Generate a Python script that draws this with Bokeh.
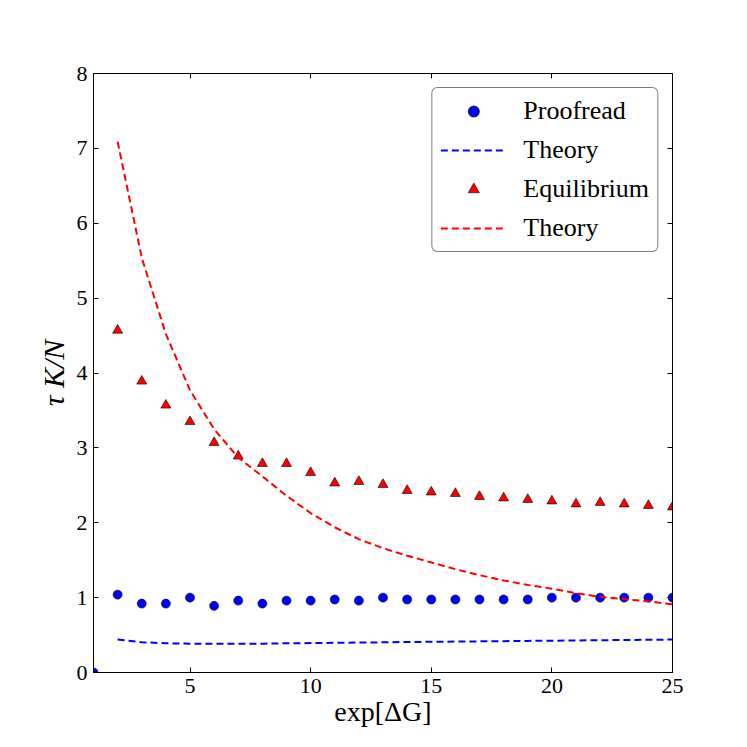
from bokeh.plotting import figure
from bokeh.models import Range1d, FixedTicker, LinearAxis, Legend, LegendItem
from bokeh.embed import file_html
from bokeh.resources import INLINE

# ---- data ----
x_proof = list(range(1, 26))
y_proof = [0.0, 1.04, 0.92, 0.92, 1.00, 0.89, 0.96, 0.92, 0.96, 0.96, 0.975, 0.96, 1.00,
           0.975, 0.975, 0.975, 0.975, 0.975, 0.975, 1.00, 1.00, 1.00, 1.00, 1.00, 1.00]

x_theory = list(range(2, 26))
y_theory_proof = [0.44, 0.405, 0.39, 0.385, 0.383, 0.383, 0.385, 0.39, 0.393, 0.396, 0.40,
                  0.403, 0.407, 0.41, 0.413, 0.416, 0.419, 0.422, 0.425, 0.428, 0.431,
                  0.434, 0.437, 0.44]

x_eq = list(range(2, 26))
y_eq = [4.57, 3.89, 3.57, 3.35, 3.07, 2.89, 2.79, 2.79, 2.67, 2.53, 2.55, 2.51, 2.43,
        2.41, 2.39, 2.35, 2.33, 2.31, 2.29, 2.25, 2.27, 2.25, 2.23, 2.21]

y_theory_eq = [7.09, 5.54, 4.52, 3.77, 3.25, 2.87, 2.62, 2.36, 2.13, 1.94, 1.78, 1.66,
               1.56, 1.47, 1.38, 1.30, 1.23, 1.17, 1.12, 1.06, 1.01, 0.98, 0.95, 0.91]

x_ticks = [5, 10, 15, 20, 25]
y_ticks = [0, 1, 2, 3, 4, 5, 6, 7, 8]

SERIF = "Liberation Serif"

p = figure(frame_width=579, frame_height=599,
           min_border_left=93, min_border_top=73, min_border_right=60, min_border_bottom=60,
           x_range=Range1d(1, 25), y_range=Range1d(0, 8),
           output_backend="svg", toolbar_location=None,
           background_fill_color="white", border_fill_color="white")
p.grid.visible = False
p.outline_line_color = "black"
p.outline_line_width = 1

def style_axis(ax, ticks, labels=True):
    ax.ticker = FixedTicker(ticks=ticks)
    ax.major_tick_in = 5
    ax.major_tick_out = 0
    ax.minor_tick_line_color = None
    ax.major_tick_line_color = "black"
    ax.axis_line_color = "black"
    ax.major_label_text_font = SERIF
    ax.major_label_text_font_size = "22px"
    ax.major_label_text_color = "black"
    if not labels:
        ax.major_label_text_color = None
        ax.major_label_standoff = 0

style_axis(p.xaxis[0], x_ticks)
style_axis(p.yaxis[0], y_ticks)
p.xaxis[0].major_label_standoff = 6
p.yaxis[0].major_label_standoff = 6

p.xaxis[0].axis_label = "exp[ΔG]"
p.xaxis[0].axis_label_text_font = SERIF
p.xaxis[0].axis_label_text_font_style = "normal"
p.xaxis[0].axis_label_text_font_size = "28px"
p.xaxis[0].axis_label_standoff = 0
p.xaxis[0].axis_label_text_color = "black"

p.yaxis[0].axis_label = "τ K/N"
p.yaxis[0].axis_label_text_font = SERIF
p.yaxis[0].axis_label_text_font_style = "italic"
p.yaxis[0].axis_label_text_font_size = "30px"
p.yaxis[0].axis_label_standoff = 4
p.yaxis[0].axis_label_text_color = "black"

top = LinearAxis()
right = LinearAxis()
style_axis(top, x_ticks, labels=False)
style_axis(right, y_ticks, labels=False)
p.add_layout(top, "above")
p.add_layout(right, "right")

r1 = p.scatter(x_proof, y_proof, marker="circle", size=9, fill_color="#0000ff",
               line_color="black", line_width=0.6)
r2 = p.line(x_theory, y_theory_proof, line_color="#0000ff", line_width=2, line_dash="7 4")
r3 = p.scatter(x_eq, y_eq, marker="triangle", size=10, fill_color="#ff0000",
               line_color="black", line_width=0.6)
r4 = p.line(x_theory, y_theory_eq, line_color="#ff0000", line_width=2, line_dash="7 4")

legend = Legend(items=[
    LegendItem(label="Proofread", renderers=[r1]),
    LegendItem(label="Theory", renderers=[r2]),
    LegendItem(label="Equilibrium", renderers=[r3]),
    LegendItem(label="Theory", renderers=[r4]),
], location="top_right")
legend.margin = 14
legend.padding = 8
legend.spacing = 9
legend.glyph_width = 66
legend.glyph_height = 28
legend.label_height = 28
legend.label_standoff = 17
legend.label_text_font = SERIF
legend.label_text_font_size = "26px"
legend.label_text_color = "black"
legend.border_line_color = "black"
legend.border_line_width = 1
legend.background_fill_color = "white"
legend.background_fill_alpha = 1
legend.border_radius = 6
p.add_layout(legend, "center")

open("out.html", "w").write(file_html(p, INLINE))
